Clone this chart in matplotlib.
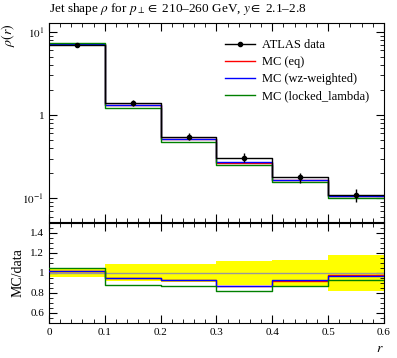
import numpy as np
import matplotlib.pyplot as plt
from matplotlib.lines import Line2D
from matplotlib.ticker import MultipleLocator, FixedLocator, NullFormatter, LogLocator

plt.rcParams['font.family'] = ['Liberation Serif', 'DejaVu Serif']
plt.rcParams['mathtext.fontset'] = 'stix'

# bin edges in r
edges = [0.0, 0.1, 0.2, 0.3, 0.4, 0.5, 0.6]
centres = [0.05, 0.15, 0.25, 0.35, 0.45, 0.55]

# ATLAS data and relative uncertainty
data = [7.0, 1.40, 0.552, 0.308, 0.178, 0.109]
rel_err = [0.045, 0.085, 0.093, 0.123, 0.133, 0.183]

# MC / data ratios
ratio_eq = [1.02, 0.945, 0.928, 0.872, 0.92, 0.975]
ratio_wz = [1.023, 0.947, 0.93, 0.873, 0.927, 0.973]
ratio_ll = [1.047, 0.877, 0.867, 0.817, 0.87, 0.927]

data = np.array(data)
rel_err = np.array(rel_err)
mc = {
    'MC (eq)': (np.array(ratio_eq), 'red'),
    'MC (wz-weighted)': (np.array(ratio_wz), 'blue'),
    'MC (locked_lambda)': (np.array(ratio_ll), 'green'),
}

def step_vals(v):
    return np.append(v, v[-1])

fig = plt.figure(figsize=(3.97, 3.58), dpi=100)
ax = fig.add_axes([0.1234, 0.3799, 0.8438, 0.5559])
rax = fig.add_axes([0.1234, 0.0978, 0.8438, 0.2793], sharex=ax)

# main panel
handles = [Line2D([], [], color='black', marker='o', ms=3, lw=1.0)]
labels = ['ATLAS data']
ax.step(edges, step_vals(data), where='post', color='black', lw=1.0, zorder=4)
ax.errorbar(centres, data, yerr=data * rel_err, fmt='o', color='black',
            ms=3, lw=1.0, capsize=0, zorder=5)
for name, (r, col) in mc.items():
    ln, = ax.step(edges, step_vals(data * r), where='post', color=col, lw=1.0)
    handles.append(ln)
    labels.append(name)

ax.set_yscale('log')
ax.set_xlim(0, 0.6)
ax.set_ylim(10 ** -1.286, 10 ** 1.107)
ax.yaxis.set_major_locator(FixedLocator([0.1, 1, 10]))
ax.set_yticklabels(['$10^{-1}$', '1', '$10^{1}$'])
ax.yaxis.set_minor_locator(LogLocator(base=10, subs=np.arange(2, 10)))
ax.yaxis.set_minor_formatter(NullFormatter())
ax.xaxis.set_major_locator(MultipleLocator(0.1))
ax.xaxis.set_minor_locator(MultipleLocator(0.02))
ax.tick_params(labelbottom=False)
ax.set_ylabel(r'$\rho(r)$', fontsize=10, loc='top')
ax.text(0.0, 1.03, r'Jet shape $\rho$ for $p_\perp \in$ 210–260 GeV, $y \in$ 2.1–2.8',
        transform=ax.transAxes, fontsize=9.5, ha='left', va='bottom')
ax.legend(handles, labels, loc='upper left', frameon=False, fontsize=9,
          handlelength=2.4, handletextpad=0.6, labelspacing=0.4,
          bbox_to_anchor=(0.51, 0.945), borderaxespad=0)

# ratio panel
for i in range(len(centres)):
    rax.fill_between([edges[i], edges[i + 1]], 1 - rel_err[i], 1 + rel_err[i],
                     color='yellow', lw=0, zorder=1)
rax.axhline(1.0, color='#999999', lw=1.0, zorder=2)
for name, (r, col) in mc.items():
    rax.step(edges, step_vals(r), where='post', color=col, lw=1.0, zorder=3)
rax.set_ylim(0.5, 1.5)
rax.yaxis.set_major_locator(FixedLocator([0.6, 0.8, 1.0, 1.2, 1.4]))
rax.set_yticklabels(['0.6', '0.8', '1', '1.2', '1.4'])
rax.yaxis.set_minor_locator(MultipleLocator(0.05))
rax.set_xticks(edges)
rax.set_xticklabels(['0', '0.1', '0.2', '0.3', '0.4', '0.5', '0.6'])
rax.set_ylabel('MC/data', fontsize=10)
rax.set_xlabel('$r$', fontsize=10, loc='right')

for a in (ax, rax):
    a.tick_params(which='both', direction='in', top=True, right=True, labelsize=8)
    a.tick_params(which='major', length=6)
    a.tick_params(which='minor', length=3)

fig.savefig('out.png', dpi=100)
